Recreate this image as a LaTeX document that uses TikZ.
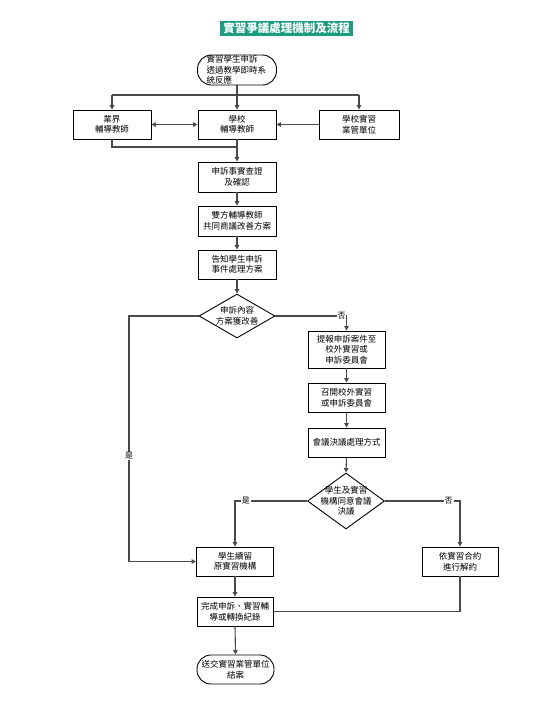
\documentclass[tikz,border=0pt]{standalone}
\usepackage{fontspec}
\setmainfont{Noto Sans CJK TC}
\usetikzlibrary{shapes.geometric,arrows.meta}
\definecolor{titlegreen}{HTML}{1A9C80}
\definecolor{linegray}{HTML}{4A4A4A}
\tikzset{
  base/.style={font=\fontsize{8.5}{10.5}\selectfont, align=center, inner sep=0pt},
  box/.style={base, draw=black, line width=0.9pt, minimum width=78pt, minimum height=29pt},
  term/.style={base, draw=black, line width=0.9pt, rounded corners=14pt, minimum width=79pt, minimum height=30pt},
  dia/.style={diamond, draw=black, line width=0.9pt, inner sep=0pt},
  dtext/.style={base},
  conn/.style={draw=linegray, line width=1.1pt, -{Triangle[length=4.5pt,width=4.5pt]}},
  plain/.style={draw=linegray, line width=1.1pt},
  lab/.style={font=\fontsize{8}{9}\selectfont, fill=white, inner sep=0.8pt},
}
\begin{document}
\begin{tikzpicture}[x=1pt,y=-1pt]
\useasboundingbox (0,0) rectangle (558,716);
% title
\node[fill=titlegreen, text=white, font=\fontsize{11.5}{13}\selectfont\bfseries, minimum width=133pt, minimum height=15pt, inner sep=0pt] (title) at (286.5,28.5) {實習爭議處理機制及流程};
% nodes
\node[term, text width=61pt, align=left] (start) at (237,70) {實習學生申訴\\透過教學即時系\\統反應};
\node[box] (b1) at (112,124.5) {業界\\輔導教師};
\node[box] (b2) at (237,124.5) {學校\\輔導教師};
\node[box, minimum width=80pt] (b3) at (359,124.5) {學校實習\\業管單位};
\node[box, minimum height=30pt] (s1) at (237,177) {申訴事實查證\\及確認};
\node[box, minimum height=30pt] (s2) at (237,221) {雙方輔導教師\\共同商議改善方案};
\node[box] (s3) at (237,264.5) {告知學生申訴\\事件處理方案};
\node[dia, minimum width=76pt, minimum height=44pt] (d1) at (237,316) {};
\node[dtext] (d1t) at (d1.center) {申訴內容\\方案獲改善};
\node[box, minimum width=77pt, minimum height=37pt] (r1) at (346.5,349.5) {提報申訴案件至\\校外實習或\\申訴委員會};
\node[box, minimum width=77pt] (r2) at (346.5,397.5) {召開校外實習\\或申訴委員會};
\node[box, minimum width=77pt] (r3) at (346.5,442.5) {會議決議處理方式};
\node[dia, minimum width=77pt, minimum height=56pt] (d2) at (346,501) {};
\node[dtext] (d2t) at (d2.center) {學生及實習\\機構同意會議\\決議};
\node[box, minimum width=77pt] (k1) at (235,561.5) {學生續留\\原實習機構};
\node[box, minimum width=76pt] (k2) at (460,561.5) {依實習合約\\進行解約};
\node[box, minimum width=76pt] (f1) at (235,611.5) {完成申訴、實習輔\\導或轉換紀錄};
\node[term, minimum width=77pt, minimum height=29pt] (end) at (235.5,669.5) {送交實習業管單位\\結案};
% coordinates
\coordinate (h1) at (112,95);
\coordinate (h3) at (359,95);
\coordinate (m1) at (112,147);
\coordinate (m2) at (237,147);
\coordinate (l1) at (129,316);
\coordinate (l2) at (129,561.5);
\coordinate (rc) at (346.5,316);
\coordinate (kc1) at (235,501);
\coordinate (kc2) at (460,501);
\coordinate (fc) at (460,611.5);
% connectors
\draw[conn] (start.south) -- (b2.north);
\draw[plain] (h1) -- (h3);
\draw[conn] (h1) -- (b1.north);
\draw[conn] (h3) -- (b3.north);
\draw[draw=linegray, line width=1.1pt, {Triangle[length=4.5pt,width=4.5pt]}-{Triangle[length=4.5pt,width=4.5pt]}] (b1.east) -- (b2.west);
\draw[conn] (b3.west) -- (b2.east);
\draw[plain] (b1.south) -- (m1) -- (m2);
\draw[conn] (b2.south) -- (s1.north);
\draw[conn] (s1.south) -- (s2.north);
\draw[conn] (s2.south) -- (s3.north);
\draw[conn] (s3.south) -- (d1.north);
\draw[conn] (d1.west) -- (l1) -- node[lab, pos=0.57] (yes1) {是} (l2) -- (k1.west);
\draw[conn] (d1.east) -- node[lab, pos=0.93] (no1) {否} (rc) -- (r1.north);
\draw[conn] (r1.south) -- (r2.north);
\draw[conn] (r2.south) -- (r3.north);
\draw[conn] (r3.south) -- (d2.north);
\draw[conn] (d2.west) -- node[lab, pos=0.85] (yes2) {是} (kc1) -- (k1.north);
\draw[conn] (d2.east) -- node[lab, pos=0.85] (no2) {否} (kc2) -- (k2.north);
\draw[conn] (k1.south) -- (f1.north);
\draw[plain] (k2.south) -- (fc) -- (f1.east);
\draw[conn] (f1.south) -- (end.north);
\end{tikzpicture}
\end{document}
